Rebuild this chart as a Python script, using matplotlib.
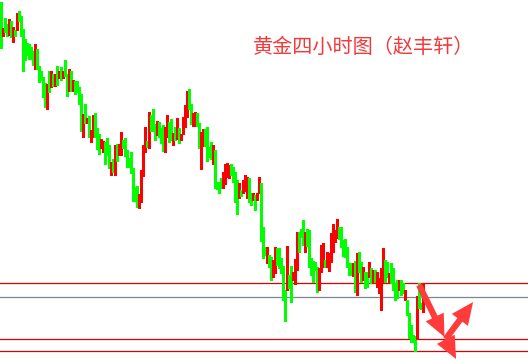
import matplotlib
matplotlib.use("Agg")
import matplotlib.pyplot as plt
from matplotlib.patches import FancyArrowPatch

plt.rcParams["font.family"] = ["Noto Sans CJK SC", "DejaVu Sans"]

# 4-hour gold bars: high / low, direction (r = up, g = down)
highs = [1398, 1372, 1382, 1376, 1381, 1379, 1373, 1370, 1387, 1389,
         1384, 1371, 1361, 1357, 1356, 1353, 1349, 1356, 1351, 1334,
         1329, 1323, 1317, 1316, 1329, 1329, 1326, 1326, 1334, 1329,
         1333, 1329, 1340, 1326, 1331, 1329, 1320, 1319, 1319, 1313,
         1306, 1286, 1296, 1282, 1284, 1270, 1285, 1287, 1272, 1266,
         1261, 1259, 1258, 1262, 1255, 1238, 1241, 1255, 1256, 1256,
         1268, 1260, 1262, 1250, 1242, 1248, 1232, 1213, 1214, 1206,
         1230, 1255, 1273, 1259, 1288, 1285, 1291, 1276, 1279, 1278,
         1272, 1275, 1273, 1285, 1278, 1281, 1267, 1273, 1282, 1272,
         1266, 1283, 1295, 1309, 1311, 1296, 1287, 1288, 1287, 1277,
         1268, 1271, 1271, 1273, 1253, 1258, 1255, 1250, 1218, 1218,
         1222, 1228, 1236, 1237, 1235, 1236, 1233, 1228, 1220, 1217,
         1210, 1220, 1225, 1223, 1222, 1207, 1207, 1205, 1207, 1223,
         1217, 1173, 1153, 1153, 1145, 1143, 1140, 1153, 1152, 1152,
         1142, 1134, 1110, 1154, 1125, 1134, 1128, 1141, 1168, 1168,
         1171, 1180, 1168, 1171, 1170, 1142, 1139, 1138, 1133, 1132,
         1155, 1157, 1140, 1148, 1147, 1167, 1176, 1170, 1181, 1173,
         1173, 1160, 1161, 1153, 1137, 1137, 1137, 1139, 1147, 1148,
         1138, 1133, 1128, 1128, 1138, 1132, 1130, 1130, 1128, 1122,
         1132, 1152, 1140, 1138, 1127, 1137, 1132, 1117, 1120, 1120,
         1120, 1117, 1110, 1100, 1087, 1075, 1065, 1064, 1104, 1117,
         1097, 1117]
lows = [1352, 1364, 1368, 1364, 1365, 1363, 1358, 1364, 1370, 1379,
        1364, 1329, 1340, 1345, 1341, 1341, 1335, 1331, 1331, 1318,
        1320, 1303, 1293, 1291, 1308, 1313, 1314, 1314, 1315, 1322,
        1320, 1322, 1324, 1304, 1309, 1309, 1309, 1306, 1308, 1296,
        1269, 1263, 1277, 1277, 1263, 1258, 1263, 1263, 1251, 1246,
        1252, 1248, 1236, 1245, 1232, 1225, 1228, 1225, 1239, 1245,
        1245, 1252, 1244, 1233, 1233, 1227, 1199, 1199, 1193, 1192,
        1198, 1224, 1248, 1253, 1252, 1269, 1269, 1260, 1265, 1263,
        1257, 1249, 1248, 1263, 1258, 1260, 1255, 1260, 1261, 1257,
        1260, 1266, 1273, 1283, 1291, 1276, 1274, 1274, 1274, 1252,
        1231, 1254, 1254, 1239, 1243, 1241, 1236, 1212, 1211, 1207,
        1212, 1212, 1216, 1223, 1222, 1225, 1218, 1198, 1186, 1202,
        1204, 1207, 1209, 1202, 1198, 1195, 1200, 1190, 1200, 1207,
        1159, 1142, 1145, 1137, 1133, 1120, 1123, 1127, 1135, 1132,
        1127, 1100, 1079, 1110, 1112, 1098, 1120, 1116, 1130, 1148,
        1163, 1155, 1148, 1154, 1133, 1125, 1118, 1130, 1108, 1110,
        1128, 1133, 1133, 1133, 1129, 1138, 1148, 1158, 1162, 1161,
        1153, 1144, 1143, 1133, 1125, 1125, 1124, 1108, 1105, 1128,
        1118, 1120, 1112, 1113, 1123, 1117, 1117, 1118, 1113, 1107,
        1090, 1118, 1118, 1123, 1118, 1117, 1110, 1100, 1102, 1110,
        1105, 1107, 1100, 1085, 1062, 1058, 1058, 1049, 1061, 1092,
        1091, 1088]
direction = "".join([
    "grggrgrgrg", "gggggggrgg", "gggrgrgrgr", "grggrgrggg", "grgrgrrggg",
    "rrgggrgrgr", "rggggggggr", "rrrgrgggrg", "ggrrggrgrg", "rrrrggrrgg",
    "rrggggrggg", "grrrrggggr", "grrrggrgrr", "gggrggrrgg", "gggrggrrrg",
    "ggrggggggr", "rrgrrrrrrg", "ggggggrgrg", "grggrgrgrr", "rrggrggggr",
    "ggrgggggrg", "gr"])
support_red = [1117, 1061, 1049]
support_grey = [1103]
# hand-drawn style arrows: (start x, start price, end x, end price)
arrows = [(209.3, 1115, 222.0, 1063),
          (222.6, 1061, 236.3, 1098),
          (222.6, 1061, 227.8, 1041)]

n = len(highs)
colors = ["#ff0000" if d == "r" else "#00ff00" for d in direction[:n]]

fig = plt.figure(figsize=(5.28, 3.63), dpi=100)
ax = fig.add_axes([0, 0, 1, 1])
ax.set_xlim(-0.25, 263.75)
ax.set_ylim(1037, 1400)
ax.axis("off")

ax.vlines(range(n), lows, highs, colors=colors, linewidth=0.75, antialiased=False, zorder=3)

for lvl in support_red:
    ax.axhline(lvl, color="#dd0000", linewidth=0.9, zorder=2)
for lvl in support_grey:
    ax.axhline(lvl, color="#7d8792", linewidth=0.9, zorder=2)

for x0, y0, x1, y1 in arrows:
    ax.add_patch(FancyArrowPatch((x0, y0), (x1, y1),
                 arrowstyle="simple,head_length=1.0,head_width=0.9,tail_width=0.28",
                 mutation_scale=16, shrinkA=0, shrinkB=0,
                 color="#ff3b3b", linewidth=0, zorder=5))

fig.text(253 / 528, 1 - 47 / 363, "黄金四小时图（赵丰轩）", fontsize=14.5,
         color="#f23a3a", ha="left", va="center")

fig.savefig("out.png", dpi=100)
